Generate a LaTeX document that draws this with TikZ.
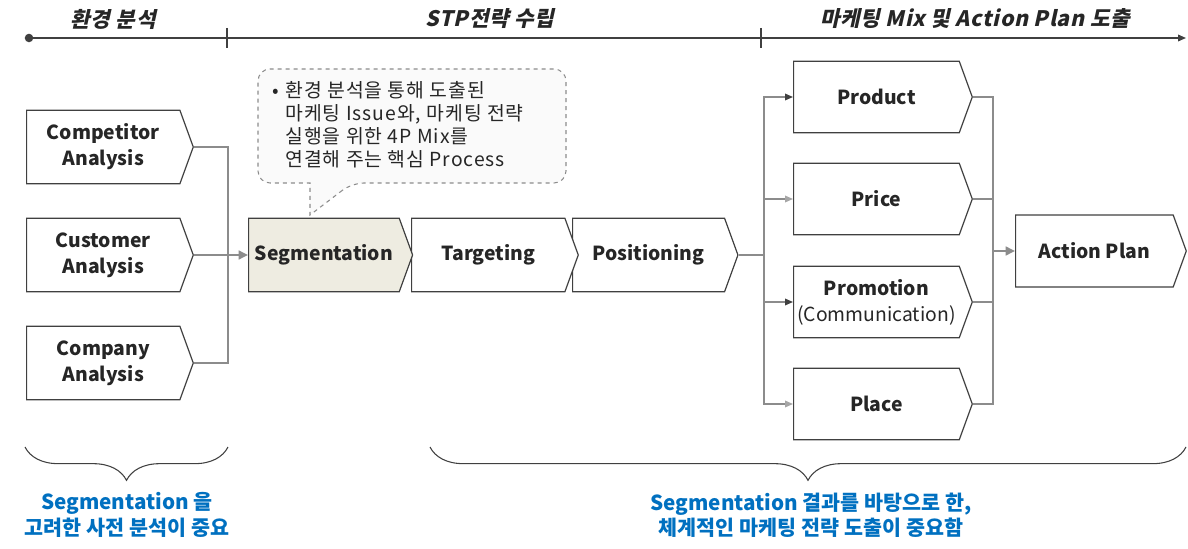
\documentclass[tikz,border=0pt]{standalone}
\usepackage{fontspec}
\setmainfont{Noto Sans CJK KR}
\newfontfamily\phasefont[FakeSlant=0.22, LetterSpace=3]{Noto Sans CJK KR}
\newfontfamily\callfont[LetterSpace=5]{Noto Sans CJK KR}
\usetikzlibrary{arrows.meta, shapes.symbols, decorations.pathreplacing}

\definecolor{boxline}{HTML}{404040}
\definecolor{linkgray}{HTML}{8C8C8C}
\definecolor{lightlink}{HTML}{A6A6A6}
\definecolor{segfill}{HTML}{EEECE1}
\definecolor{noteblue}{HTML}{0070C0}
\definecolor{inkgray}{HTML}{262626}

\tikzset{
  chev/.style={signal, signal to=east, signal pointer angle=140, draw=boxline,
    line width=0.9pt, fill=white, anchor=west, align=center, inner sep=0pt,
    text=inkgray, font=\fontsize{14.5}{19.5}\selectfont\bfseries},
  anabox/.style={chev, minimum width=125pt, minimum height=55pt},
  stpbox/.style={chev, minimum height=55pt},
  mixbox/.style={chev, minimum width=134pt, minimum height=53.5pt},
  link/.style={draw=linkgray, line width=0.9pt},
  darktip/.style={-{Triangle[length=6pt, width=5pt, fill=boxline, color=boxline]}},
  lighttip/.style={-{Triangle[length=6pt, width=5pt, fill=lightlink, color=lightlink]}},
  mainarrow/.style={draw=linkgray, line width=2pt, -{Triangle[length=7pt, width=6.5pt]}},
  timeline/.style={draw=boxline, line width=1pt},
  phase/.style={text=inkgray, font=\phasefont\fontsize{16}{19}\selectfont\bfseries},
  callout/.style={draw=linkgray, dashed, line width=0.8pt, fill=gray!4},
  notetext/.style={text=inkgray, inner sep=0pt, font=\callfont\fontsize{14.5}{17.2}\selectfont},
  bracestyle/.style={draw=boxline, line width=0.8pt, decorate, decoration={brace, amplitude=25pt}},
  bluenote/.style={text=noteblue, align=center, font=\fontsize{15.5}{19}\selectfont\bfseries}
}

\begin{document}
\begin{tikzpicture}[x=0.75pt, y=-0.75pt]
\useasboundingbox (0,0) rectangle (1188,549);
% Draw phase line with ticks
\coordinate (tlstart) at (29,38);
\coordinate (tlend) at (1186,38);
\draw[timeline, -{Triangle[length=6pt, width=5pt]}] (tlstart) -- (tlend);
\fill[boxline] (tlstart) circle [radius=3.2pt];
\draw[timeline] (227,28) -- (227,48);
\draw[timeline] (761,28) -- (761,48);
\node[phase] (envttl) at (113,19) {환경 분석};
\node[phase] (stpttl) at (490,19) {STP전략 수립};
\node[phase] (mixttl) at (975,19) {마케팅 Mix 및 Action Plan 도출};
% Draw analysis boxes
\node[anabox] (compet) at (26,147) {Competitor\\Analysis};
\node[anabox] (custom) at (26,255) {Customer\\Analysis};
\node[anabox] (compan) at (26,363) {Company\\Analysis};
% Draw STP boxes, right to left so tips overlap
\node[stpbox, minimum width=124pt] (posit) at (572,255) {Positioning};
\node[stpbox, minimum width=125pt] (target) at (411,255) {Targeting};
\node[stpbox, minimum width=123pt, fill=segfill] (segm) at (248,255) {Segmentation};
% Draw callout above segmentation
\draw[callout] (352,183) -- (310,215) -- (310,183) [rounded corners=9pt] -- (258,183)
  -- (258,69) -- (566,69) -- (566,183) -- cycle;
\node[notetext, anchor=north west] (calltxt) at (272,81) {%
  \begin{tabular}{@{}l@{\hspace{5pt}}l@{}}
  •& 환경 분석을 통해 도출된\\
  & 마케팅 Issue와, 마케팅 전략\\
  & 실행을 위한 4P Mix를\\
  & 연결해 주는 핵심 Process
  \end{tabular}};
% Draw 4P boxes
\node[mixbox] (prod) at (793,97) {Product};
\node[mixbox] (price) at (793,199) {Price};
\node[mixbox] (promo) at (793,302) {Promotion\\{\mdseries (Communication)}};
\node[mixbox] (place) at (793,404) {Place};
\node[chev, minimum width=128pt, minimum height=54pt] (actplan) at (1015,251) {Action Plan};
% Join analysis boxes into segmentation
\coordinate (anajoin) at (228,255);
\draw[link] (compet.east) -| (anajoin) |- (compan.east);
\draw[mainarrow] (custom.east) -- (segm.west);
% Split positioning into 4P
\coordinate (mixsplit) at (764,255);
\draw[link] (posit.east) -- (mixsplit);
\draw[link, darktip] (mixsplit) |- (prod.west);
\draw[link, lighttip] (mixsplit) |- (price.west);
\draw[link, darktip] (mixsplit) |- (promo.west);
\draw[link, lighttip] (mixsplit) |- (place.west);
% Join 4P into action plan
\coordinate (mixjoin) at (993,251);
\draw[link] (prod.east) -| (mixjoin);
\draw[link] (price.east) -| (mixjoin);
\draw[link] (promo.east) -| (mixjoin);
\draw[link] (place.east) -| (mixjoin);
\draw[mainarrow] (mixjoin) -- (actplan.west);
% Draw braces and notes
\draw[bracestyle] (228,447) -- (25,447);
\draw[bracestyle] (1186,447) -- (430,447);
\node[bluenote] (envnote) at (127,515) {Segmentation 을\\고려한 사전 분석이 중요};
\node[bluenote] (stpnote) at (811,515) {Segmentation 결과를 바탕으로 한,\\체계적인 마케팅 전략 도출이 중요함};
\end{tikzpicture}
\end{document}
